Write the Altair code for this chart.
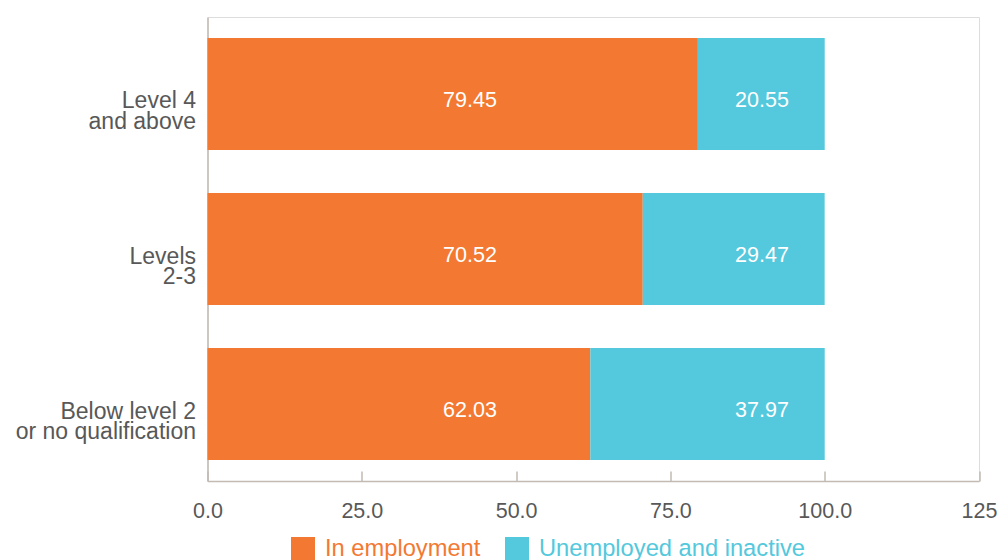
import altair as alt
import pandas as pd

categories = ["Level 4\nand above", "Levels\n2-3", "Below level 2\nor no qualification"]
series = ["In employment", "Unemployed and inactive"]
employed = [79.45, 70.52, 62.03]
unemployed = [20.55, 29.47, 37.97]
tick_values = [0, 25, 50, 75, 100, 125]
colors = ["#F37932", "#54C8DC"]

rows = []
for c, e, u in zip(categories, employed, unemployed):
    rows.append({"category": c, "series": series[0], "value": e, "order": 0})
    rows.append({"category": c, "series": series[1], "value": u, "order": 1})
df = pd.DataFrame(rows)
ticks_df = pd.DataFrame({"t": tick_values})

FONT = "Liberation Sans, Arial, sans-serif"
AXIS_COLOR = "#C2BAB3"
LABEL_COLOR = "#585858"
W, H = 771.5, 464

xscale = alt.Scale(domain=[0, 125], nice=False, zero=True)
yscale = alt.Scale(paddingInner=0.277, paddingOuter=0.135)

base = alt.Chart(df)

bars = base.mark_bar().encode(
    x=alt.X("value:Q", stack="zero", scale=xscale,
            axis=alt.Axis(orient="bottom", values=tick_values, title=None,
                          ticks=False, tickSize=0, labelPadding=19,
                          labelExpr="datum.value == 125 ? '125' : format(datum.value, '.1f')",
                          labelFlush=False, labelOverlap=False, labelBound=False,
                          labelFontSize=21.5, labelColor=LABEL_COLOR, labelFont=FONT,
                          domainColor=AXIS_COLOR, domainWidth=1.5, grid=False)),
    y=alt.Y("category:N", sort=categories, scale=yscale,
            axis=alt.Axis(title=None, ticks=False, labelPadding=12,
                          labelExpr="split(datum.label, '\\n')",
                          labelFontSize=23, labelColor=LABEL_COLOR, labelFont=FONT,
                          labelBaseline="top", labelOffset=-3.5, labelLineHeight=20.5,
                          labelAlign="right", labelLimit=0,
                          domainColor=AXIS_COLOR, domainWidth=1.5, grid=False)),
    color=alt.Color("series:N", sort=series,
                    scale=alt.Scale(domain=series, range=colors),
                    legend=alt.Legend(title=None, orient="none", direction="horizontal",
                                      legendX=83.5, legendY=520, padding=0,
                                      symbolType="square", symbolSize=576,
                                      symbolStrokeWidth=0, symbolOpacity=1,
                                      labelFontSize=23.7, labelFont=FONT, labelOffset=10,
                                      columnPadding=24, labelLimit=0,
                                      labelColor=alt.expr("datum.label == 'In employment' ? '#F37932' : '#54C8DC'"))),
    order=alt.Order("order:Q"),
)

text_emp = base.transform_filter(alt.datum.series == series[0]).mark_text(
    color="white", fontSize=21.5, font=FONT, align="center", baseline="alphabetic", dy=13
).encode(
    x=alt.value(262.5),
    y=alt.Y("category:N", sort=categories, scale=yscale),
    text=alt.Text("value:Q", format=".2f"),
)

text_unemp = base.transform_filter(alt.datum.series == series[1]).mark_text(
    color="white", fontSize=21.5, font=FONT, align="center", baseline="alphabetic", dy=13
).encode(
    x=alt.value(554.5),
    y=alt.Y("category:N", sort=categories, scale=yscale),
    text=alt.Text("value:Q", format=".2f"),
)

tick_layer = alt.Chart(ticks_df).mark_point(opacity=0).encode(
    x=alt.X("t:Q", scale=xscale,
            axis=alt.Axis(orient="top", offset=-H, values=tick_values, labels=False,
                          title=None, domain=False, ticks=True, tickSize=10,
                          tickColor=AXIS_COLOR, tickWidth=1.5, grid=False)),
)

chart = alt.layer(bars, text_emp, text_unemp, tick_layer).resolve_scale(
    x="shared"
).resolve_axis(
    x="independent"
).properties(
    width=W, height=H,
    autosize=alt.AutoSizeParams(type="none"),
    padding={"left": 207.5, "top": 17, "right": 22, "bottom": 79},
).configure_view(stroke=None).configure(font=FONT)

chart.save("out.html", embed_options={"renderer": "svg", "actions": False})
